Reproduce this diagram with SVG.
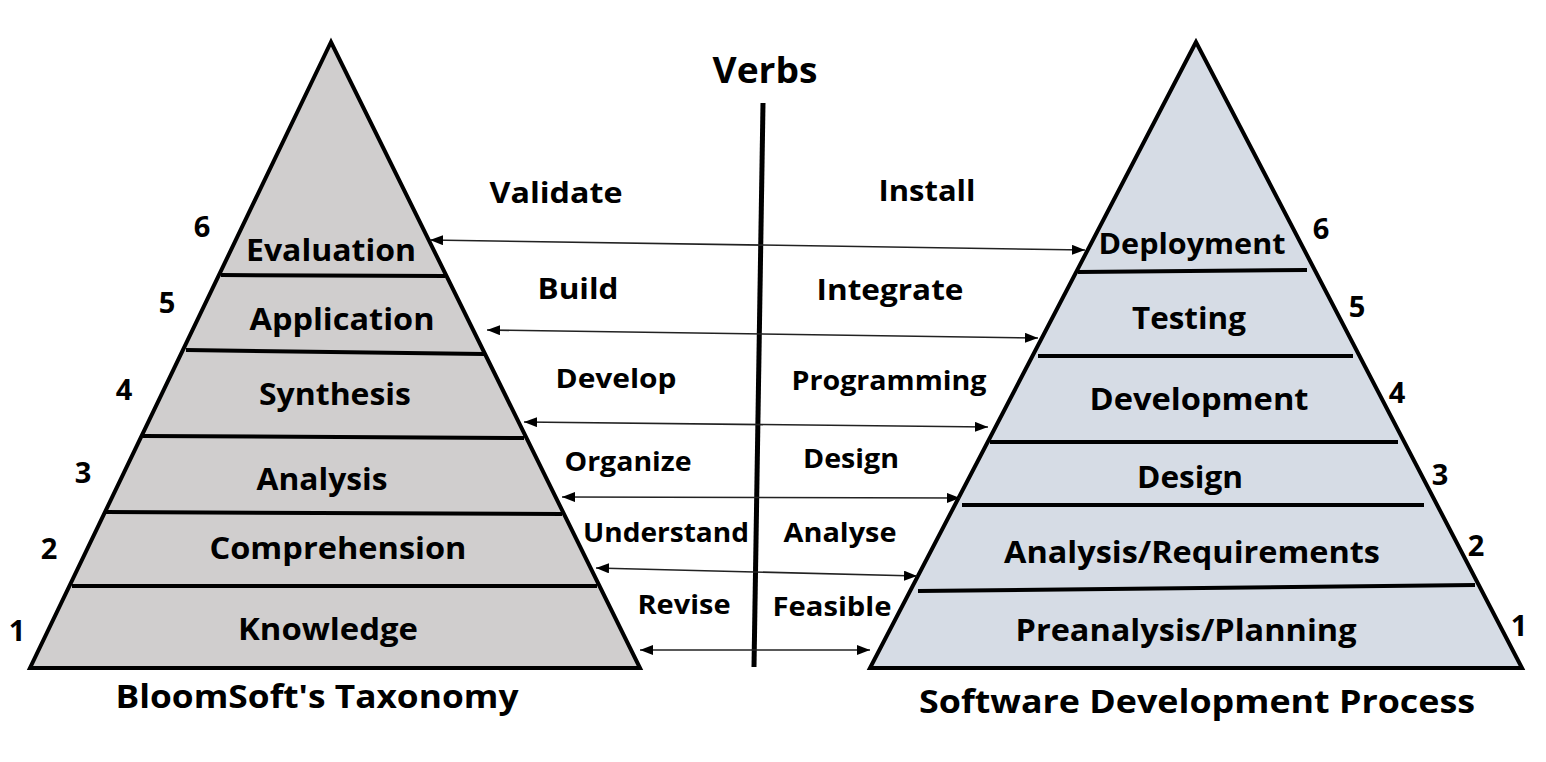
<svg xmlns="http://www.w3.org/2000/svg" width="1546" height="762" viewBox="0 0 1546 762">
<defs>
<marker id="ah" markerUnits="userSpaceOnUse" markerWidth="14" markerHeight="10" refX="13" refY="5" orient="auto-start-reverse">
<path d="M0,0 L13,5 L0,10 Z" fill="#000"/>
</marker>
</defs>
<style>
.t{font-family:"Open Sans","Liberation Sans",sans-serif;font-weight:bold;fill:#000;text-anchor:middle}
.lbl{font-size:30px}
.num{font-size:29px}
.verb{font-size:29px}
.ttl{font-size:32px}
.tri{stroke:#000;stroke-width:4;stroke-linejoin:miter}
.div{stroke:#000;stroke-width:4}
.arr{stroke:#222;stroke-width:1.6;fill:none;marker-start:url(#ah);marker-end:url(#ah)}
</style>
<rect width="1546" height="762" fill="#fff"/>

<g id="bloom">
<polygon class="tri" points="331,42 30,668 640,668" fill="#d0cece"/>
<line class="div" x1="221" y1="275" x2="445" y2="276"/>
<line class="div" x1="186" y1="350" x2="484" y2="354"/>
<line class="div" x1="143" y1="436" x2="524" y2="438"/>
<line class="div" x1="106" y1="512" x2="562" y2="514"/>
<line class="div" x1="72" y1="586" x2="597" y2="586"/>
<text class="t lbl" x="331" y="261" textLength="170" lengthAdjust="spacingAndGlyphs">Evaluation</text>
<text class="t lbl" x="342" y="330" textLength="185" lengthAdjust="spacingAndGlyphs">Application</text>
<text class="t lbl" x="335" y="405" textLength="152" lengthAdjust="spacingAndGlyphs">Synthesis</text>
<text class="t lbl" x="322" y="490" textLength="131" lengthAdjust="spacingAndGlyphs">Analysis</text>
<text class="t lbl" x="338" y="559" textLength="257" lengthAdjust="spacingAndGlyphs">Comprehension</text>
<text class="t lbl" x="328" y="640" textLength="180" lengthAdjust="spacingAndGlyphs">Knowledge</text>
<text class="t num" x="202" y="237">6</text>
<text class="t num" x="167" y="313">5</text>
<text class="t num" x="124" y="400">4</text>
<text class="t num" x="83" y="483">3</text>
<text class="t num" x="49" y="559">2</text>
<text class="t num" x="17" y="641">1</text>
<text class="t ttl" x="317" y="708" textLength="403" lengthAdjust="spacingAndGlyphs">BloomSoft's Taxonomy</text>
</g>

<g id="sdp">
<polygon class="tri" points="1196,42 870,668 1522,668" fill="#d6dce5"/>
<line class="div" x1="1078" y1="272" x2="1307" y2="270"/>
<line class="div" x1="1038" y1="356" x2="1353" y2="356"/>
<line class="div" x1="990" y1="442" x2="1398" y2="442"/>
<line class="div" x1="962" y1="505" x2="1424" y2="505"/>
<line class="div" x1="918" y1="591" x2="1475" y2="585"/>
<text class="t lbl" x="1192" y="254" style="font-size:28px" textLength="187" lengthAdjust="spacingAndGlyphs">Deployment</text>
<text class="t lbl" x="1189" y="329" textLength="114" lengthAdjust="spacingAndGlyphs">Testing</text>
<text class="t lbl" x="1199" y="410" textLength="219" lengthAdjust="spacingAndGlyphs">Development</text>
<text class="t lbl" x="1190" y="488" textLength="106" lengthAdjust="spacingAndGlyphs">Design</text>
<text class="t lbl" x="1192" y="563" textLength="376" lengthAdjust="spacingAndGlyphs">Analysis/Requirements</text>
<text class="t lbl" x="1186" y="641" textLength="341" lengthAdjust="spacingAndGlyphs">Preanalysis/Planning</text>
<text class="t num" x="1321" y="239">6</text>
<text class="t num" x="1357" y="317">5</text>
<text class="t num" x="1397" y="403">4</text>
<text class="t num" x="1440" y="485">3</text>
<text class="t num" x="1476" y="556">2</text>
<text class="t num" x="1519" y="636">1</text>
<text class="t ttl" x="1197" y="713" textLength="556" lengthAdjust="spacingAndGlyphs">Software Development Process</text>
</g>

<g id="verbs">
<text class="t" x="765" y="83" style="font-size:36px" textLength="105" lengthAdjust="spacingAndGlyphs">Verbs</text>
<line x1="763" y1="103" x2="754" y2="667" stroke="#000" stroke-width="5"/>
<text class="t verb" x="556" y="203" textLength="133" lengthAdjust="spacingAndGlyphs">Validate</text>
<text class="t verb" x="927" y="201" textLength="97" lengthAdjust="spacingAndGlyphs">Install</text>
<text class="t verb" x="578" y="299" textLength="81" lengthAdjust="spacingAndGlyphs">Build</text>
<text class="t verb" x="890" y="300" textLength="147" lengthAdjust="spacingAndGlyphs">Integrate</text>
<text class="t verb" x="616" y="388" style="font-size:27px" textLength="121" lengthAdjust="spacingAndGlyphs">Develop</text>
<text class="t verb" x="889" y="390" style="font-size:27px" textLength="195" lengthAdjust="spacingAndGlyphs">Programming</text>
<text class="t verb" x="628" y="471" style="font-size:27px" textLength="127" lengthAdjust="spacingAndGlyphs">Organize</text>
<text class="t verb" x="851" y="468" style="font-size:27px" textLength="96" lengthAdjust="spacingAndGlyphs">Design</text>
<text class="t verb" x="666" y="542" style="font-size:27px" textLength="166" lengthAdjust="spacingAndGlyphs">Understand</text>
<text class="t verb" x="840" y="542" style="font-size:27px" textLength="113" lengthAdjust="spacingAndGlyphs">Analyse</text>
<text class="t verb" x="684" y="614" style="font-size:27px" textLength="93" lengthAdjust="spacingAndGlyphs">Revise</text>
<text class="t verb" x="832" y="616" style="font-size:27px" textLength="119" lengthAdjust="spacingAndGlyphs">Feasible</text>
</g>

<g id="connectors">
<line class="arr" x1="430" y1="240" x2="1085" y2="250"/>
<line class="arr" x1="487" y1="330" x2="1038" y2="338"/>
<line class="arr" x1="524" y1="422" x2="988" y2="427"/>
<line class="arr" x1="562" y1="497" x2="960" y2="498"/>
<line class="arr" x1="596" y1="568" x2="917" y2="576"/>
<line class="arr" x1="640" y1="650" x2="870" y2="650"/>
</g>
</svg>
